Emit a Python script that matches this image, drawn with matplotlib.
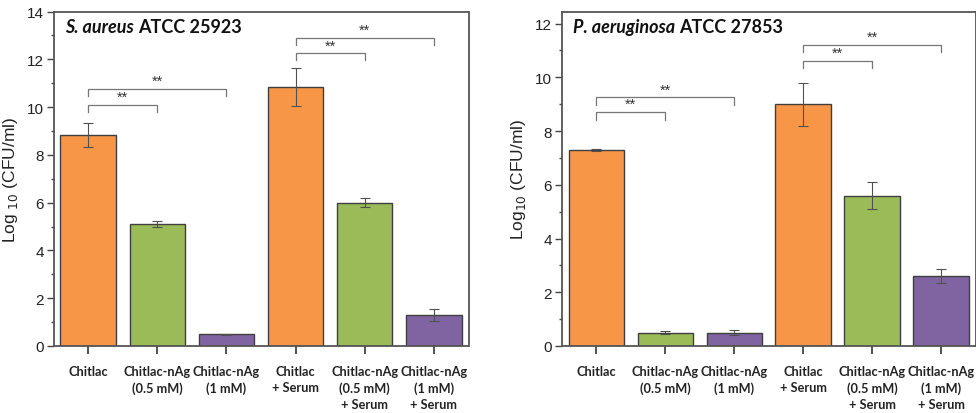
import numpy as np
import matplotlib.pyplot as plt

plt.rcParams['font.family'] = ['Liberation Sans', 'DejaVu Sans']

# categories and data
categories = ["Chitlac", "Chitlac-nAg\n(0.5 mM)", "Chitlac-nAg\n(1 mM)",
              "Chitlac\n+ Serum", "Chitlac-nAg\n(0.5 mM)\n+ Serum", "Chitlac-nAg\n(1 mM)\n+ Serum"]
sa_vals = [8.82, 5.10, 0.50, 10.83, 6.00, 1.30]
sa_err = [0.50, 0.12, 0.02, 0.80, 0.20, 0.25]
pa_vals = [7.30, 0.50, 0.50, 9.00, 5.60, 2.60]
pa_err = [0.05, 0.05, 0.10, 0.80, 0.50, 0.25]
# significance brackets: (from, to, height)
sa_sig = [(0, 1, 10.08), (0, 2, 10.75), (3, 4, 12.25), (3, 5, 12.9)]
pa_sig = [(0, 1, 8.7), (0, 2, 9.25), (3, 4, 10.62), (3, 5, 11.2)]

colors = ["#F79646", "#9BBB59", "#8064A2", "#F79646", "#9BBB59", "#8064A2"]
spine_col = "#555555"

fig = plt.figure(figsize=(9.76, 4.14), dpi=100)
ax1 = fig.add_axes([53.5/976, 1-347/414, 415/976, 334.5/414])
ax2 = fig.add_axes([561.7/976, 1-347/414, 413.8/976, 334.5/414])


def draw(ax, vals, err, sig, ymax, title_it, title_rest, ylab, leg):
    x = np.arange(len(vals))
    ax.bar(x, vals, width=0.8, color=colors, edgecolor="#3f3f3f", linewidth=1.0, zorder=2)
    ax.errorbar(x, vals, yerr=err, fmt="none", ecolor="#505050", elinewidth=0.8,
                capsize=3.5, capthick=0.8, zorder=3)
    for a, b, h in sig:
        ax.plot([a, a, b, b], [h - leg, h, h, h - leg], color="#777777", lw=0.9, zorder=3)
        ax.text((a + b) / 2, h + 0.04, "**", ha="center", va="bottom",
                fontsize=10.5, color="#333333")
    ax.set_xlim(-0.5, 5.5)
    ax.set_ylim(0, ymax)
    ax.set_yticks(np.arange(0, ymax + 0.01, 2))
    ax.set_yticks(np.arange(1, ymax, 2), minor=True)
    ax.set_xticks(x)
    ax.set_xticklabels(categories, family="Lato", fontweight="bold", fontsize=9.2,
                       color="#222222", linespacing=1.4)
    ax.tick_params(axis="y", which="major", direction="out", length=5, width=1,
                   color="#444444", labelsize=11, labelcolor="#222222", pad=2)
    ax.tick_params(axis="y", which="minor", direction="out", length=2.5, width=1,
                   color="#444444")
    ax.tick_params(axis="x", direction="out", length=6, width=1.2, color="#333333", pad=8)
    for s in ax.spines.values():
        s.set_color(spine_col)
        s.set_linewidth(1.3)
    ax.set_ylabel(ylab, fontsize=12.5, color="#222222", labelpad=5)
    t = ax.text(0.027, 0.955, title_it, transform=ax.transAxes, ha="left", va="center",
                fontsize=13, fontweight="bold", style="italic", family="Lato", color="#111111")
    fig.canvas.draw()
    bb = t.get_window_extent().transformed(ax.transAxes.inverted())
    ax.text(bb.x1 + 0.01, 0.955, title_rest, transform=ax.transAxes, ha="left",
            va="center", fontsize=13, fontweight="bold", family="Lato", color="#111111")


draw(ax1, sa_vals, sa_err, sa_sig, 14, "S. aureus", "ATCC 25923",
     r"Log $_{10}$ (CFU/ml)", 0.3)
draw(ax2, pa_vals, pa_err, pa_sig, 12.45, "P. aeruginosa", "ATCC 27853",
     r"Log$_{10}$ (CFU/ml)", 0.27)

fig.savefig("out.png", dpi=100)
